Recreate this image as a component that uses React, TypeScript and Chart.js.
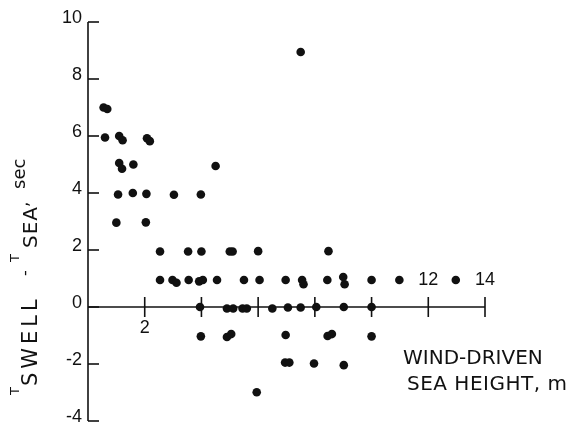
import React, { useEffect, useRef } from "react";
import { Chart, registerables } from "chart.js";
Chart.register(...registerables);

// Wind-driven sea height (m)
const seaHeight = [
  0.55, 0.68,
  0.6, 1.1, 1.22, 2.08, 2.18,
  1.1, 1.2, 1.6, 4.5,
  1.06, 1.58, 2.06, 3.03, 3.98,
  1.0, 2.04,
  2.54, 3.53, 4.0, 5.0, 5.1, 6.0, 8.48,
  2.54, 2.98, 3.12, 3.55, 3.92, 4.05, 4.55, 5.5, 6.05, 6.97, 7.55, 7.6, 8.44, 9.0, 9.05, 10.0, 10.98, 12.97,
  3.95, 4.9, 5.12, 5.45, 5.6, 6.5, 7.05, 7.5, 8.05, 9.02, 10.0,
  3.98, 4.9, 5.05, 6.97, 8.45, 8.6, 10.0,
  6.95, 7.1, 7.97, 9.02,
  5.95,
  7.5,
];
// T_swell - T_sea (sec)
const periodDiff = [
  7.0, 6.95,
  5.95, 6.0, 5.85, 5.92, 5.82,
  5.05, 4.85, 5.0, 4.95,
  3.95, 4.0, 3.97, 3.94, 3.95,
  2.96, 2.97,
  1.95, 1.95, 1.95, 1.95, 1.95, 1.96, 1.96,
  0.95, 0.95, 0.85, 0.95, 0.9, 0.95, 0.95, 0.95, 0.95, 0.95, 0.95, 0.8, 0.95, 1.05, 0.8, 0.95, 0.95, 0.95,
  0, -0.05, -0.05, -0.05, -0.05, -0.05, -0.02, -0.02, 0, 0, 0,
  -1.03, -1.05, -0.95, -0.98, -1.02, -0.95, -1.03,
  -1.95, -1.95, -1.98, -2.04,
  -2.99,
  8.95,
];

const yTicks = [-4, -2, 0, 2, 4, 6, 8, 10];
const yTickLabels = ["-4", "-2", "0", "2", "4", "6", "8", "10"];
const xTicks = [2, 4, 6, 8, 10, 12, 14];
const xTickLabels = ["2", "", "", "", "", "12", "14"];

const INK = "#111";
const FONT = "'Liberation Sans', Arial, sans-serif";
const TFONT = "'DejaVu Sans', sans-serif";

const axesPlugin = {
  id: "paperAxes",
  afterDatasetsDraw(chart: any) {
    const { ctx, scales } = chart;
    const xs = scales.x;
    const ys = scales.y;
    const x0 = xs.getPixelForValue(0);
    const y0 = ys.getPixelForValue(0);
    ctx.save();
    ctx.strokeStyle = INK;
    ctx.fillStyle = INK;
    ctx.lineWidth = 1.6;
    // y axis
    ctx.beginPath();
    ctx.moveTo(x0, ys.getPixelForValue(10));
    ctx.lineTo(x0, ys.getPixelForValue(-4));
    ctx.stroke();
    yTicks.forEach((v) => {
      const py = ys.getPixelForValue(v);
      ctx.beginPath();
      ctx.moveTo(x0, py);
      ctx.lineTo(x0 + 11, py);
      ctx.stroke();
    });
    ctx.font = `18px ${FONT}`;
    ctx.textAlign = "right";
    ctx.textBaseline = "middle";
    yTicks.forEach((v, i) => {
      const py = ys.getPixelForValue(v);
      ctx.fillText(yTickLabels[i], x0 - 6, py - 4);
    });
    // x axis
    ctx.beginPath();
    ctx.moveTo(x0, y0);
    ctx.lineTo(xs.getPixelForValue(14), y0);
    ctx.stroke();
    xTicks.forEach((v, i) => {
      const px = xs.getPixelForValue(v);
      ctx.beginPath();
      ctx.moveTo(px, y0 - 10);
      ctx.lineTo(px, y0 + 10);
      ctx.stroke();
      const lab = xTickLabels[i];
      if (lab) {
        ctx.textAlign = "center";
        ctx.textBaseline = "middle";
        if (v === 2) ctx.fillText(lab, px, y0 + 21);
        else ctx.fillText(lab, px, y0 - 27);
      }
    });
    // x title
    ctx.font = `20px ${TFONT}`;
    ctx.textAlign = "left";
    ctx.textBaseline = "alphabetic";
    ctx.fillText("WIND-DRIVEN", 403, 364);
    ctx.letterSpacing = "0.5px";
    ctx.fillText("SEA HEIGHT, m", 407, 390);
    ctx.letterSpacing = "0px";
    // y title (rotated)
    ctx.rotate(-Math.PI / 2);
    const put = (t: string, size: number, screenY: number, screenX: number, sp = 0) => {
      ctx.font = `${size}px ${TFONT}`;
      ctx.letterSpacing = `${sp}px`;
      ctx.fillText(t, -screenY, screenX);
    };
    put("T", 13, 395, 19);
    put("SWELL", 21, 386, 37, 4);
    put("-", 16, 276, 30);
    put("T", 13, 262, 19);
    put("SEA", 20, 248, 37, 1);
    put(",", 17, 207, 28);
    put("sec", 18, 189, 25);
    ctx.letterSpacing = "0px";
    ctx.restore();
  },
};

export default function App() {
  const ref = useRef<HTMLCanvasElement | null>(null);
  useEffect(() => {
    document.body.style.margin = "0";
    const canvas = ref.current!;
    const data = seaHeight.map((x, i) => ({ x, y: periodDiff[i] }));
    const chart = new Chart(canvas, {
      type: "scatter",
      data: {
        datasets: [
          {
            data,
            backgroundColor: INK,
            borderColor: INK,
            pointRadius: 4.3,
            pointBorderWidth: 0,
          },
        ],
      },
      options: {
        animation: false,
        responsive: false,
        layout: { padding: { left: 88, right: 89, top: 22, bottom: 7 } },
        plugins: { legend: { display: false }, tooltip: { enabled: false } },
        scales: {
          x: { type: "linear", min: 0, max: 14, display: false },
          y: { type: "linear", min: -4, max: 10, display: false },
        },
      },
      plugins: [axesPlugin],
    });
    return () => chart.destroy();
  }, []);
  return (
    <div style={{ width: 574, height: 428, background: "#fff" }}>
      <canvas ref={ref} width={574} height={428} />
    </div>
  );
}
